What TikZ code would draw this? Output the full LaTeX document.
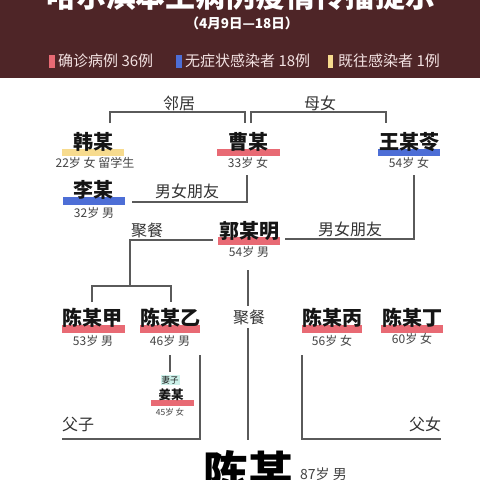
\documentclass[tikz,border=0pt]{standalone}
\usepackage{fontspec}
\setmainfont{Noto Sans CJK SC}
\definecolor{hdr}{HTML}{4E2527}
\definecolor{legtxt}{HTML}{F3E2E2}
\definecolor{qzbar}{HTML}{E86A74}
\definecolor{wzbar}{HTML}{4D6ED6}
\definecolor{jwbar}{HTML}{F7DB8E}
\definecolor{tagbg}{HTML}{CDF1EA}
\definecolor{linegray}{HTML}{5A5A5A}
\definecolor{namecol}{HTML}{151515}
\definecolor{infocol}{HTML}{444444}
\definecolor{relcol}{HTML}{333333}
\begin{document}
\begin{tikzpicture}[x=1pt,y=-1pt,
  link/.style={draw=linegray,line width=1.3pt},
  pname/.style={inner sep=0pt,text=namecol,font=\fontsize{20}{20}\selectfont\bfseries},
  info/.style={inner sep=0pt,text=infocol,font=\fontsize{12}{12}\selectfont},
  rel/.style={inner sep=1pt,text=relcol,font=\fontsize{16}{16}\selectfont},
  legend/.style={anchor=west,inner sep=0pt,text=legtxt,font=\fontsize{15}{15}\selectfont}]
\useasboundingbox (0,0) rectangle (480,480);
\clip (0,0) rectangle (480,480);
\fill[white] (0,0) rectangle (480,480);
% header
\fill[hdr] (0,0) rectangle (480,78);
\node[inner sep=0pt,text=white,font=\fontsize{30}{30}\selectfont\bfseries] (title) at (241,-4) {哈尔滨本土病例疫情传播提示};
\node[inner sep=0pt,text=white,font=\fontsize{13.5}{14}\selectfont\bfseries] (date) at (242,23) {（4月9日—18日）};
\fill[qzbar] (49,55) rectangle (55,68);
\fill[wzbar] (176,55) rectangle (182,68);
\fill[jwbar] (328,55) rectangle (333,68);
\node[legend] (leg1) at (58,61) {确诊病例 36例};
\node[legend] (leg2) at (185,61) {无症状感染者 18例};
\node[legend] (leg3) at (338,61) {既往感染者 1例};
% highlight bars
\fill[jwbar] (62,149) rectangle (124,156);
\fill[qzbar] (217,149) rectangle (280,156);
\fill[wzbar] (378,149) rectangle (440,156);
\fill[wzbar] (63,197) rectangle (125,205);
\fill[qzbar] (218,237) rectangle (280,245);
\fill[qzbar] (62,325) rectangle (125,333);
\fill[qzbar] (140,325) rectangle (200,333);
\fill[qzbar] (302,325) rectangle (362,333);
\fill[qzbar] (381,325) rectangle (443,333);
\fill[qzbar] (151,400) rectangle (194,406);
% people
\node[pname] (han) at (93,142) {韩某};
\node[info] (haninfo) at (95,163) {22岁 女 留学生};
\node[pname] (cao) at (248,142) {曹某};
\node[info] (caoinfo) at (248,163) {33岁 女};
\node[pname] (wang) at (409,142) {王某苓};
\node[info] (wanginfo) at (409,163) {54岁 女};
\node[pname] (li) at (94,190) {李某};
\node[info] (liinfo) at (94,213) {32岁 男};
\node[pname] (guo) at (249,231) {郭某明};
\node[info] (guoinfo) at (249,252) {54岁 男};
\node[pname] (jia) at (93,318) {陈某甲};
\node[info] (jiainfo) at (93,341) {53岁 男};
\node[pname] (yi) at (170,318) {陈某乙};
\node[info] (yiinfo) at (170,341) {46岁 男};
\node[pname] (bing) at (332,318) {陈某丙};
\node[info] (binginfo) at (332,341) {56岁 女};
\node[pname] (ding) at (412,318) {陈某丁};
\node[info] (dinginfo) at (412,339) {60岁 女};
\node[fill=tagbg,inner sep=1pt,text=namecol,font=\fontsize{8.5}{9}\selectfont] (qizi) at (170,380) {妻子};
\node[pname,font=\fontsize{12.5}{13}\selectfont\bfseries] (jiang) at (171,395) {姜某};
\node[info,font=\fontsize{8.5}{9}\selectfont] (jianginfo) at (170,412) {45岁 女};
\node[inner sep=0pt,text=black,font=\fontsize{45}{45}\selectfont\bfseries] (chen) at (248,472) {陈某};
\node[info,anchor=west,font=\fontsize{14}{14}\selectfont] (cheninfo) at (300,474) {87岁 男};
% connectors
\draw[link] ([shift={(17,-19)}]han.center) |- ([shift={(-3,-30)}]cao.center) -- ([shift={(-3,-19)}]cao.center);
\draw[link] ([shift={(3,-19)}]cao.center) |- ([shift={(-23,-30)}]wang.center) -- ([shift={(-23,-19)}]wang.center);
\draw[link] ([shift={(38,12)}]li.center) -| ([shift={(-1,33)}]cao.center);
\draw[link] ([shift={(36,8)}]guo.center) -| ([shift={(5,33)}]wang.center);
\coordinate (jc) at (130,286);
\draw[link] ([shift={(-36,9)}]guo.center) -| (jc);
\draw[link] ([shift={(-1,-16)}]jia.center) |- (jc) -| ([shift={(1,-16)}]yi.center);
\draw[link] ([shift={(-1,39)}]guo.center) -- ([shift={(0,-32)}]chen.center);
\draw[link] ([shift={(0,37)}]yi.center) -- ([shift={(0,-8)}]qizi.center);
\coordinate (fz) at (62,439);
\coordinate (fn) at (441,439);
\draw[link] ([shift={(30,37)}]yi.center) |- (fz);
\draw[link] ([shift={(-30,37)}]bing.center) |- (fn);
% relations
\node[rel] (linju) at (179,103) {邻居};
\node[rel] (munv) at (320,103) {母女};
\node[rel] (pengyou1) at (187,191) {男女朋友};
\node[rel] (pengyou2) at (350,229) {男女朋友};
\node[rel] (jucan1) at (147,230) {聚餐};
\node[rel,fill=white,inner sep=4pt] (jucan2) at (249,317) {聚餐};
\node[rel] (fuzi) at (78,424) {父子};
\node[rel] (funv) at (425,424) {父女};
\end{tikzpicture}
\end{document}
